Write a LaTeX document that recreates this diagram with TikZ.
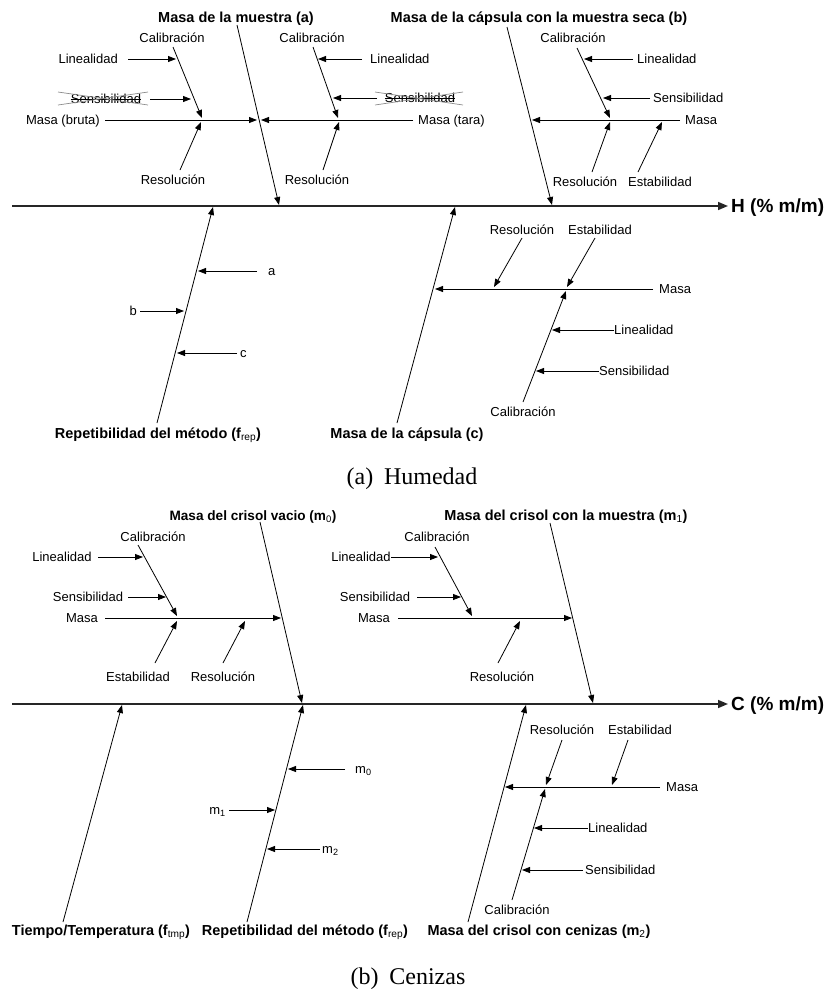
\documentclass[tikz,border=0pt]{standalone}
\usepackage{fontspec}
\setmainfont{Liberation Sans}
\newfontfamily\capfont{Liberation Serif}
\usetikzlibrary{arrows.meta}
\newcommand{\lsub}[1]{\textsubscript{\mdseries #1}}
\begin{document}
\begin{tikzpicture}[x=1pt,y=-1pt,
  lbl/.style={font=\fontsize{13}{15}\selectfont, inner sep=0pt, text height=9pt, text depth=0pt},
  ttl/.style={font=\bfseries\fontsize{14.5}{17}\selectfont, inner sep=0pt, text height=10.4pt, text depth=0pt},
  big/.style={font=\bfseries\fontsize{19}{22}\selectfont, inner sep=0pt, text height=13.6pt, text depth=0pt, anchor=west},
  captxt/.style={font=\capfont\fontsize{24}{28}\selectfont, inner sep=0pt, text height=15.9pt, text depth=0pt},
  ln/.style={line width=0.8pt},
  arr/.style={line width=0.8pt, -{Triangle[length=8pt,width=6pt]}},
  spine/.style={line width=1.6pt, draw=black!85, -{Triangle[length=10pt,width=8pt]}},
  xout/.style={line width=0.7pt, draw=black!45},
]
\useasboundingbox (0,0) rectangle (828,989);

%================ (a) Humedad =================
\coordinate (sa0) at (12,206); \coordinate (sa1) at (728,206);
\draw[spine] (sa0) -- (sa1);
\node[big] (H) at (731,206) {H (\% m/m)};

% --- Masa de la muestra (a)
\node[ttl] (tA) at (236,17) {Masa de la muestra (a)};
\coordinate (A0) at (237,25); \coordinate (A1) at (279,205);
\draw[arr] (A0) -- (A1);

\node[lbl,anchor=east] (mbr) at (100,120) {Masa (bruta)};
\coordinate (mbr0) at (105,120); \coordinate (mbr1) at (257,120);
\draw[arr] (mbr0) -- (mbr1);
\node[lbl] (calA1) at (172,38) {Calibración};
\coordinate (cA10) at (173,47); \coordinate (cA11) at (202,118);
\draw[arr] (cA10) -- (cA11);
\node[lbl,anchor=east] (linA1) at (118,59) {Linealidad};
\coordinate (lA10) at (128,59); \coordinate (lA11) at (176,59);
\draw[arr] (lA10) -- (lA11);
\node[lbl] (senA1) at (106,99) {Sensibilidad};
\draw[ln] (senA1.west) -- (senA1.east);
\draw[xout] (58,92) -- (148,105); \draw[xout] (58,105) -- (148,92);
\coordinate (sA10) at (150,99); \coordinate (sA11) at (191,99);
\draw[arr] (sA10) -- (sA11);
\node[lbl] (resA1) at (173,180) {Resolución};
\coordinate (rA10) at (180,170); \coordinate (rA11) at (201,122);
\draw[arr] (rA10) -- (rA11);

\node[lbl,anchor=west] (mta) at (418,120) {Masa (tara)};
\coordinate (mta0) at (413,120); \coordinate (mta1) at (261,120);
\draw[arr] (mta0) -- (mta1);
\node[lbl] (calA2) at (312,38) {Calibración};
\coordinate (cA20) at (313,47); \coordinate (cA21) at (338,118);
\draw[arr] (cA20) -- (cA21);
\node[lbl,anchor=west] (linA2) at (370,59) {Linealidad};
\coordinate (lA20) at (362,59); \coordinate (lA21) at (318,59);
\draw[arr] (lA20) -- (lA21);
\node[lbl] (senA2) at (420,98) {Sensibilidad};
\draw[ln] (senA2.west) -- (senA2.east);
\draw[xout] (375,92) -- (463,105); \draw[xout] (375,105) -- (463,92);
\coordinate (sA20) at (377,98); \coordinate (sA21) at (333,98);
\draw[arr] (sA20) -- (sA21);
\node[lbl] (resA2) at (317,180) {Resolución};
\coordinate (rA20) at (323,170); \coordinate (rA21) at (339,122);
\draw[arr] (rA20) -- (rA21);

% --- Masa de la capsula con la muestra seca (b)
\node[ttl] (tB) at (539,17) {Masa de la cápsula con la muestra seca (b)};
\coordinate (B0) at (507,27); \coordinate (B1) at (552,205);
\draw[arr] (B0) -- (B1);
\node[lbl,anchor=west] (mB) at (685,120) {Masa};
\coordinate (mB0) at (680,120); \coordinate (mB1) at (532,120);
\draw[arr] (mB0) -- (mB1);
\node[lbl] (calB) at (573,38) {Calibración};
\coordinate (cB0) at (577,48); \coordinate (cB1) at (610,118);
\draw[arr] (cB0) -- (cB1);
\node[lbl,anchor=west] (linB) at (637,59) {Linealidad};
\coordinate (lB0) at (633,59); \coordinate (lB1) at (584,59);
\draw[arr] (lB0) -- (lB1);
\node[lbl,anchor=west] (senB) at (653,98) {Sensibilidad};
\coordinate (sB0) at (650,98); \coordinate (sB1) at (603,98);
\draw[arr] (sB0) -- (sB1);
\node[lbl] (resB) at (585,182) {Resolución};
\coordinate (rB0) at (592,172); \coordinate (rB1) at (610,122);
\draw[arr] (rB0) -- (rB1);
\node[lbl] (estB) at (660,182) {Estabilidad};
\coordinate (eB0) at (638,172); \coordinate (eB1) at (662,122);
\draw[arr] (eB0) -- (eB1);

% --- Repetibilidad del metodo
\node[ttl] (tR) at (158,433) {Repetibilidad del método (f\lsub{rep})};
\coordinate (R0) at (157,423); \coordinate (R1) at (213,207);
\draw[arr] (R0) -- (R1);
\node[lbl,anchor=west] (ra) at (268,271) {a};
\coordinate (ra0) at (257,271); \coordinate (ra1) at (198,271);
\draw[arr] (ra0) -- (ra1);
\node[lbl,anchor=east] (rb) at (137,311) {b};
\coordinate (rb0) at (140,311); \coordinate (rb1) at (184,311);
\draw[arr] (rb0) -- (rb1);
\node[lbl,anchor=west] (rc) at (240,353) {c};
\coordinate (rc0) at (237,353); \coordinate (rc1) at (177,353);
\draw[arr] (rc0) -- (rc1);

% --- Masa de la capsula (c)
\node[ttl] (tC) at (407,433) {Masa de la cápsula (c)};
\coordinate (C0) at (397,423); \coordinate (C1) at (455,207);
\draw[arr] (C0) -- (C1);
\node[lbl,anchor=west] (mC) at (659,289) {Masa};
\coordinate (mC0) at (653,289); \coordinate (mC1) at (435,289);
\draw[arr] (mC0) -- (mC1);
\node[lbl] (resC) at (522,230) {Resolución};
\coordinate (rC0) at (522,238); \coordinate (rC1) at (494,287);
\draw[arr] (rC0) -- (rC1);
\node[lbl] (estC) at (600,230) {Estabilidad};
\coordinate (eC0) at (595,238); \coordinate (eC1) at (567,287);
\draw[arr] (eC0) -- (eC1);
\node[lbl] (calC) at (523,412) {Calibración};
\coordinate (cC0) at (523,402); \coordinate (cC1) at (566,291);
\draw[arr] (cC0) -- (cC1);
\node[lbl,anchor=west] (linC) at (614,330) {Linealidad};
\coordinate (lC0) at (614,330); \coordinate (lC1) at (552,330);
\draw[arr] (lC0) -- (lC1);
\node[lbl,anchor=west] (senC) at (599,371) {Sensibilidad};
\coordinate (sC0) at (599,371); \coordinate (sC1) at (536,371);
\draw[arr] (sC0) -- (sC1);

\node[captxt] (capa) at (412,477) {(a)\hspace{0.45em}Humedad};

%================ (b) Cenizas =================
\coordinate (sb0) at (12,704); \coordinate (sb1) at (728,704);
\draw[spine] (sb0) -- (sb1);
\node[big] (C) at (731,704) {C (\% m/m)};

% --- Masa del crisol vacio
\node[ttl,font=\bfseries\fontsize{13.6}{16}\selectfont] (tM0) at (253,515) {Masa del crisol vacio (m\lsub{0})};
\coordinate (M00) at (260,522); \coordinate (M01) at (302,703);
\draw[arr] (M00) -- (M01);
\node[lbl] (calM0) at (153,537) {Calibración};
\coordinate (cM00) at (138,545); \coordinate (cM01) at (177,616);
\draw[arr] (cM00) -- (cM01);
\node[lbl] (linM0) at (62,557) {Linealidad};
\coordinate (lM00) at (98,557); \coordinate (lM01) at (143,557);
\draw[arr] (lM00) -- (lM01);
\node[lbl] (senM0) at (88,597) {Sensibilidad};
\coordinate (sM00) at (128,597); \coordinate (sM01) at (166,597);
\draw[arr] (sM00) -- (sM01);
\node[lbl] (mM0) at (82,618) {Masa};
\coordinate (mM00) at (105,618); \coordinate (mM01) at (281,618);
\draw[arr] (mM00) -- (mM01);
\node[lbl] (estM0) at (138,677) {Estabilidad};
\coordinate (eM00) at (155,663); \coordinate (eM01) at (177,621);
\draw[arr] (eM00) -- (eM01);
\node[lbl] (resM0) at (223,677) {Resolución};
\coordinate (rM00) at (223,663); \coordinate (rM01) at (245,621);
\draw[arr] (rM00) -- (rM01);

% --- Masa del crisol con la muestra
\node[ttl] (tM1) at (566,515) {Masa del crisol con la muestra (m\lsub{1})};
\coordinate (M10) at (550,523); \coordinate (M11) at (593,703);
\draw[arr] (M10) -- (M11);
\node[lbl] (calM1) at (437,537) {Calibración};
\coordinate (cM10) at (435,547); \coordinate (cM11) at (472,616);
\draw[arr] (cM10) -- (cM11);
\node[lbl] (linM1) at (361,557) {Linealidad};
\coordinate (lM10) at (391,557); \coordinate (lM11) at (438,557);
\draw[arr] (lM10) -- (lM11);
\node[lbl] (senM1) at (375,597) {Sensibilidad};
\coordinate (sM10) at (417,597); \coordinate (sM11) at (461,597);
\draw[arr] (sM10) -- (sM11);
\node[lbl] (mM1) at (374,618) {Masa};
\coordinate (mM10) at (398,618); \coordinate (mM11) at (572,618);
\draw[arr] (mM10) -- (mM11);
\node[lbl] (resM1) at (502,677) {Resolución};
\coordinate (rM10) at (498,663); \coordinate (rM11) at (520,621);
\draw[arr] (rM10) -- (rM11);

% --- Tiempo/Temperatura
\node[ttl] (tT) at (101,930) {Tiempo/Temperatura (f\lsub{tmp})};
\coordinate (T0) at (63,922); \coordinate (T1) at (122,705);
\draw[arr] (T0) -- (T1);

% --- Repetibilidad del metodo
\node[ttl] (tR2) at (305,930) {Repetibilidad del método (f\lsub{rep})};
\coordinate (R20) at (247,922); \coordinate (R21) at (303,705);
\draw[arr] (R20) -- (R21);
\node[lbl,anchor=west] (m0) at (355,769) {m\textsubscript{0}};
\coordinate (m00) at (345,769); \coordinate (m01) at (288,769);
\draw[arr] (m00) -- (m01);
\node[lbl,anchor=east] (m1) at (226,810) {m\textsubscript{1}};
\coordinate (m10) at (229,810); \coordinate (m11) at (275,810);
\draw[arr] (m10) -- (m11);
\node[lbl,anchor=west] (m2) at (322,849) {m\textsubscript{2}};
\coordinate (m20) at (320,849); \coordinate (m21) at (267,849);
\draw[arr] (m20) -- (m21);

% --- Masa del crisol con cenizas
\node[ttl] (tM2) at (539,930) {Masa del crisol con cenizas (m\lsub{2})};
\coordinate (M20) at (468,922); \coordinate (M21) at (526,705);
\draw[arr] (M20) -- (M21);
\node[lbl,anchor=west] (mM2) at (666,787) {Masa};
\coordinate (mM20) at (660,787); \coordinate (mM21) at (505,787);
\draw[arr] (mM20) -- (mM21);
\node[lbl] (resM2) at (562,730) {Resolución};
\coordinate (rM20) at (562,740); \coordinate (rM21) at (546,785);
\draw[arr] (rM20) -- (rM21);
\node[lbl] (estM2) at (640,730) {Estabilidad};
\coordinate (eM20) at (628,740); \coordinate (eM21) at (612,785);
\draw[arr] (eM20) -- (eM21);
\node[lbl] (calM2) at (517,910) {Calibración};
\coordinate (cM20) at (512,900); \coordinate (cM21) at (545,789);
\draw[arr] (cM20) -- (cM21);
\node[lbl,anchor=west] (linM2) at (588,828) {Linealidad};
\coordinate (lM20) at (588,828); \coordinate (lM21) at (534,828);
\draw[arr] (lM20) -- (lM21);
\node[lbl,anchor=west] (senM2) at (585,870) {Sensibilidad};
\coordinate (sM20) at (583,870); \coordinate (sM21) at (522,870);
\draw[arr] (sM20) -- (sM21);

\node[captxt] (capb) at (408,977) {(b)\hspace{0.45em}Cenizas};
\end{tikzpicture}
\end{document}
